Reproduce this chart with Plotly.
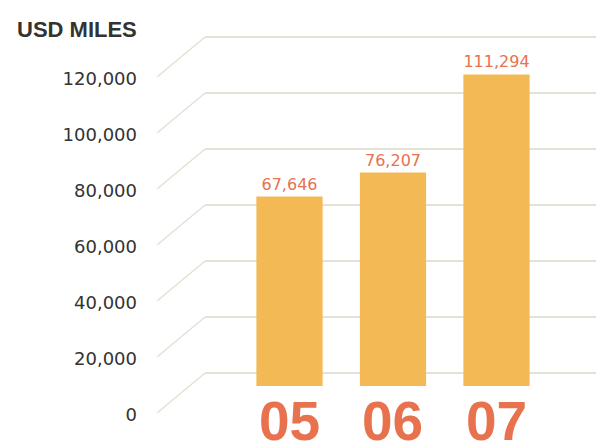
import plotly.graph_objects as go

# data
years = ["05", "06", "07"]
values = [67646, 76207, 111294]
tick_vals = [0, 20000, 40000, 60000, 80000, 100000, 120000]
tick_text = ["0", "20,000", "40,000", "60,000", "80,000", "100,000", "120,000"]

BAR = "#F2B955"
ORANGE = "#E8714E"
GRID = "#E2E3D4"

W, H = 596, 437   # page body adds an 8px margin

# value units per pixel on the y axis (20,000 every 56 px)
upp = 20000 / 56
y_range = [-72 * upp, 365 * upp]
base = -13 * upp          # bars stand a little in front of the back wall
label_shift = 42 * upp    # tick labels sit lower than the back-wall lines
diag_drop = 40 * upp

fig = go.Figure()

fig.add_trace(go.Bar(
    x=years, y=values, base=base,
    width=0.64,
    marker_color=BAR, marker_line_width=0,
    text=[f"{v:,}" for v in values],
    textposition="outside",
    textfont=dict(family="DejaVu Sans", size=16, color=ORANGE),
    cliponaxis=False,
))

#* perspective gridlines: a short diagonal, then flat to the right
for v in tick_vals:
    fig.add_shape(type="line", xref="x", yref="y", layer="below",
                  x0=-1.28, y0=v - diag_drop, x1=-0.816, y1=v,
                  line=dict(color=GRID, width=1.5))
    fig.add_shape(type="line", xref="x", yref="y", layer="below",
                  x0=-0.816, y0=v, x1=3.2, y1=v,
                  line=dict(color=GRID, width=2))

#* big year labels under the bars
for i, yr in enumerate(years):
    fig.add_annotation(x=i, y=-48 * upp, xref="x", yref="y",
                       text=f"<b>{yr}</b>", showarrow=False, yanchor="middle",
                       font=dict(family="Liberation Sans", size=55, color=ORANGE))

fig.add_annotation(x=7 / W, y=1 - 22 / H, xref="paper", yref="paper",
                   text="<b>USD MILES</b>", showarrow=False,
                   xanchor="left", yanchor="middle",
                   font=dict(family="Liberation Sans", size=22, color="#333333"))

fig.update_layout(
    width=W, height=H,
    margin=dict(l=0, r=0, t=0, b=0),
    paper_bgcolor="white", plot_bgcolor="white",
    showlegend=False,
    xaxis=dict(type="category", range=[-2.720, 3.039], visible=False),
    yaxis=dict(range=y_range, visible=False),
    yaxis2=dict(overlaying="y", anchor="free", position=129 / W, side="left",
                range=[y_range[0] + label_shift, y_range[1] + label_shift],
                tickvals=tick_vals, ticktext=tick_text,
                showgrid=False, zeroline=False, showline=False, ticks="",
                tickfont=dict(family="DejaVu Sans", size=18, color="#333333")),
)

# invisible trace so yaxis2 is drawn
fig.add_trace(go.Scatter(x=[years[0]], y=[0], yaxis="y2", mode="markers",
                         marker_opacity=0, hoverinfo="skip"))

fig.write_html("out.html")
